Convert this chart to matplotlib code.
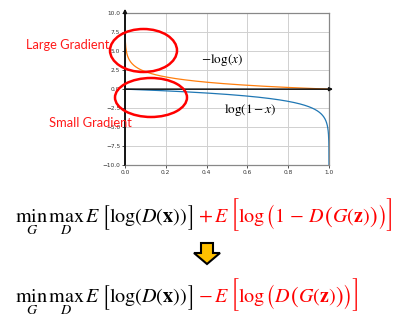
import os
import numpy as np
import matplotlib
matplotlib.use("Agg")
import matplotlib.pyplot as plt
from matplotlib.patches import Ellipse, Polygon
from matplotlib.font_manager import FontProperties

plt.rcParams['mathtext.fontset'] = 'stix'

# ---- data ----
x_vals = np.linspace(0.002, 1 - 4.6e-5, 2000)
neg_log_x = -np.log(x_vals)
log_one_minus_x = np.log(1 - x_vals)
x_ticks = [0.0, 0.2, 0.4, 0.6, 0.8, 1.0]
y_ticks = [-10.0, -7.5, -5.0, -2.5, 0.0, 2.5, 5.0, 7.5, 10.0]
curve_labels = [r"$-\log(x)$", r"$\log(1-x)$"]
annot_labels = ["Large Gradient", "Small Gradient"]

W, H = 403, 318
fig = plt.figure(figsize=(W / 100, H / 100), dpi=100)

def fx(px):
    return px / W

def fy(py):
    return 1 - py / H

ax = fig.add_axes([fx(125), fy(165), fx(329) - fx(125), fy(13.3) - fy(165)])
ax.plot(x_vals, neg_log_x, color='#ff7f0e', lw=0.9)
ax.plot(x_vals, log_one_minus_x, color='#1f77b4', lw=0.9)
ax.set_xlim(0, 1)
ax.set_ylim(-10, 10)
ax.set_xticks(x_ticks)
ax.set_yticks(y_ticks)
ax.set_xticklabels([f"{v:.1f}" for v in x_ticks])
ax.set_yticklabels([f"{v:.1f}".replace('-', '\u2212') for v in y_ticks])
ax.tick_params(labelsize=4.2, length=2, width=0.6, pad=1.5, colors='#333333')
ax.grid(True, color='#d0d0d0', lw=0.7)
for s in ['top', 'right', 'bottom']:
    ax.spines[s].set_color('#888888')
    ax.spines[s].set_linewidth(0.9)
ax.spines['left'].set_color('#222222')
ax.spines['left'].set_linewidth(1.2)

# axis arrows
ax.annotate('', xy=(1.02, 0), xytext=(0, 0), xycoords='data',
            arrowprops=dict(arrowstyle='-|>', color='#111111', lw=1.1,
                            mutation_scale=5, shrinkA=0, shrinkB=0),
            annotation_clip=False)
ax.annotate('', xy=(0, 10.6), xytext=(0, -10), xycoords='data',
            arrowprops=dict(arrowstyle='-|>', color='#111111', lw=1.2,
                            mutation_scale=5, shrinkA=0, shrinkB=0),
            annotation_clip=False)

ax.text(0.475, 3.8, curve_labels[0], fontsize=9.5, ha='center', va='center')
ax.text(0.615, -2.7, curve_labels[1], fontsize=9.5, ha='center', va='center')

# red ellipses
fig.patches.append(Ellipse((fx(143.5), fy(50.5)), fx(67), 43 / H, fill=False,
                           edgecolor='#ff0000', lw=1.8, transform=fig.transFigure))
fig.patches.append(Ellipse((fx(151), fy(97.5)), fx(72), 39 / H, fill=False,
                           edgecolor='#ff0000', lw=1.8, transform=fig.transFigure))

fig.text(fx(67.5), fy(45), annot_labels[0], color='#ff1a1a', fontsize=9.3,
         family='Lato', ha='center', va='center')
fig.text(fx(90.5), fy(123), annot_labels[1], color='#ff1a1a', fontsize=9.3,
         family='Lato', ha='center', va='center')

# equations built from pieces
ttf_dir = os.path.join(matplotlib.get_data_path(), 'fonts', 'ttf')
SIZE_FONTS = {
    's1': os.path.join(ttf_dir, 'STIXSizOneSymReg.ttf'),
    's2': os.path.join(ttf_dir, 'STIXSizTwoSymReg.ttf'),
}

BLK, RED = 'black', '#ff0000'
EQ = 14.5

def eq_line(sign, inner):
    # (text, color, size, dy, gap, font)
    return [
        (r"$\min_{G}\,\max_{D}\,E$", BLK, EQ, 0, 1, None),
        ("[", BLK, EQ, 5, 0, 's1'),
        (r"$\log(D(\mathbf{x}))$", BLK, EQ, 0, 0, None),
        ("]", BLK, EQ, 5, 3, 's1'),
        (sign + r"\,E$", RED, EQ, 0, 2, None),
        ("[", RED, EQ - 1.5, 4, -1, 's2'),
        (r"$\log$", RED, EQ, 0, 0, None),
        ("(", RED, EQ, 3.5, -1, 's1'),
        (inner, RED, EQ, 0, -0.5, None),
        (r"$($", RED, EQ + 2, 0.5, -1, None),
        (r"$G(\mathbf{z})$", RED, EQ, 0, -0.5, None),
        (r"$)$", RED, EQ + 2, 0.5, -1, None),
        (")", RED, EQ, 3.5, -1, 's1'),
        ("]", RED, EQ - 1.5, 4, 0, 's2'),
    ]

line1 = eq_line(r"$+", r"$1\,-\,D$")
line2 = eq_line(r"$-", r"$D$")

renderer = fig.canvas.get_renderer()

def draw_line(pieces, x0, baseline):
    x = x0
    for s, color, size, dy, gap, font in pieces:
        if font is None:
            t = fig.text(fx(x), fy(baseline + dy), s, fontsize=size, color=color,
                         ha='left', va='baseline')
        else:
            fp = FontProperties(fname=SIZE_FONTS[font], size=size)
            t = fig.text(fx(x), fy(baseline + dy), s, fontproperties=fp,
                         color=color, ha='left', va='baseline')
        ext = t.get_window_extent(renderer)
        x = ext.x1 + gap

draw_line(line1, 15, 222)
draw_line(line2, 15, 302)

# yellow down arrow
arrow_pts = [(201, 243), (213, 243), (213, 253), (220, 253), (207, 264),
             (194, 253), (201, 253)]
fig.patches.append(Polygon([(fx(px), fy(py)) for px, py in arrow_pts], closed=True,
                           facecolor='#ffc000', edgecolor='black', lw=1.5,
                           transform=fig.transFigure))

fig.savefig('out.png', dpi=100)
